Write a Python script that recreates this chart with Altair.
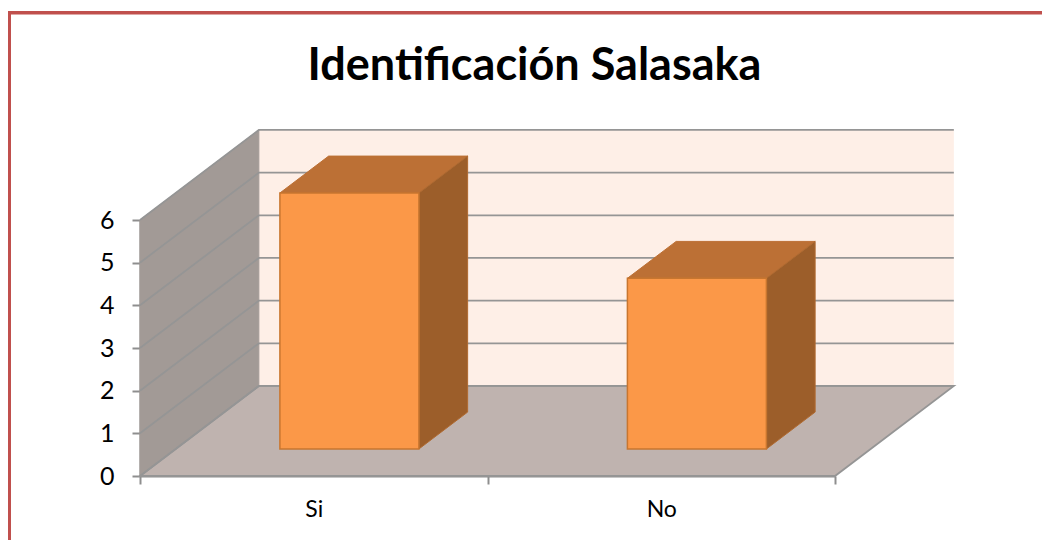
import altair as alt
import pandas as pd

categories = ["Si", "No"]
values = [6, 4]
levels = [0, 1, 2, 3, 4, 5, 6]
title_text = "Identificación Salasaka"

# oblique projection: category units / value units per full depth
KX, KY = 0.342, 2.11
D0, D1 = 0.3, 0.71
HALF = 0.2
NCAT = len(categories)
VMAX = max(levels)

X = alt.X("x:Q", scale=alt.Scale(domain=[0, NCAT], nice=False, zero=False),
          axis=alt.Axis(values=[0, 0.5, 1, 1.5, 2], title=None, grid=False, domainColor="#8E8E8E",
                        domainWidth=2, tickColor="#8E8E8E", tickWidth=2, tickSize=8,
                        tickOpacity=alt.expr("datum.value % 1 === 0 ? 1 : 0"),
                        labelExpr="datum.value === 0.5 ? 'Si' : datum.value === 1.5 ? 'No' : ''",
                        labelFont="Lato", labelFontSize=23, labelColor="#000000", labelPadding=14,
                        labelAngle=0, labelFlush=False, labelOverlap=False))
Y = alt.Y("y:Q", scale=alt.Scale(domain=[0, VMAX], nice=False, zero=False),
          axis=alt.Axis(values=levels, title=None, grid=False, domainColor="#8E8E8E", domainWidth=2,
                        tickColor="#8E8E8E", tickWidth=2, tickSize=8, format="d",
                        labelFont="Lato", labelFontSize=25, labelColor="#000000", labelPadding=18))
X2 = alt.X2("x2:Q")
Y2 = alt.Y2("y2:Q")


def vface(rows, fill, stroke=None, sw=1.0):
    mark = alt.Chart(pd.DataFrame(rows)).mark_area(fill=fill, stroke=stroke or fill, strokeWidth=sw, opacity=1)
    return mark.encode(x=X, y=Y, y2=Y2)


def hface(rows, fill, stroke=None, sw=1.0):
    mark = alt.Chart(pd.DataFrame(rows)).mark_area(orient="horizontal", fill=fill, stroke=stroke or fill,
                                                   strokeWidth=sw, opacity=1)
    return mark.encode(y=Y, x=X, x2=X2)


layers = []
# back wall
layers.append(alt.Chart(pd.DataFrame([{"x": KX, "x2": NCAT + KX, "y": KY, "y2": VMAX + KY}]))
              .mark_rect(fill="#FEEFE7").encode(x=X, x2=X2, y=Y, y2=Y2))
# left wall
layers.append(vface([{"x": 0, "y": 0, "y2": VMAX}, {"x": KX, "y": KY, "y2": VMAX + KY}], "#A29A96", "#A29A96"))
# floor
layers.append(hface([{"y": 0, "x": 0, "x2": NCAT}, {"y": KY, "x": KX, "x2": NCAT + KX}], "#BFB3AF", "#959595", 1.8))
# gridlines on both walls
grid_rows = []
for v in levels:
    grid_rows += [{"level": v, "x": 0, "y": v},
                  {"level": v, "x": KX, "y": v + KY},
                  {"level": v, "x": NCAT + KX, "y": v + KY}]
layers.append(alt.Chart(pd.DataFrame(grid_rows)).mark_line(color="#959595", strokeWidth=1.8)
              .encode(x=X, y=Y, detail="level:N"))
# bars
for i, v in enumerate(values):
    c = i + 0.5
    xl, xr = c - HALF + D0 * KX, c + HALF + D0 * KX
    y0, yt = D0 * KY, v + D0 * KY
    ddx, ddy = (D1 - D0) * KX, (D1 - D0) * KY
    layers.append(hface([{"y": yt, "x": xl, "x2": xr}, {"y": yt + ddy, "x": xl + ddx, "x2": xr + ddx}],
                        "#BC7035", "#BC7035"))
    layers.append(vface([{"x": xr, "y": y0, "y2": yt}, {"x": xr + ddx, "y": y0 + ddy, "y2": yt + ddy}],
                        "#9C5E2A", "#B06A30"))
    layers.append(alt.Chart(pd.DataFrame([{"x": xl, "x2": xr, "y": y0, "y2": yt}]))
                  .mark_rect(fill="#FB9848", stroke="#C8762F", strokeWidth=1.5)
                  .encode(x=X, x2=X2, y=Y, y2=Y2))

# slide frame
layers.append(alt.Chart(pd.DataFrame({"a": [0]})).mark_rule(color="#C0504D", strokeWidth=3.6)
              .encode(x=alt.value(-132), x2=alt.value(902), y=alt.value(-207.3)))
layers.append(alt.Chart(pd.DataFrame({"a": [0]})).mark_rule(color="#C0504D", strokeWidth=6)
              .encode(x=alt.value(-132), y=alt.value(-209), y2=alt.value(320)))

chart = (alt.layer(*layers)
         .properties(width=695, height=256,
                     title=alt.TitleParams(title_text, font="Lato", fontSize=45, fontWeight="bold",
                                           color="#000000", anchor="middle", dx=47, offset=-81),
                     autosize=alt.AutoSizeParams(type="none"),
                     padding={"left": 132, "top": 212, "right": 207, "bottom": 64})
         .configure_view(stroke=None)
         .configure(background="#FFFFFF"))

chart.save("out.html", embed_options={"renderer": "svg", "actions": False})
